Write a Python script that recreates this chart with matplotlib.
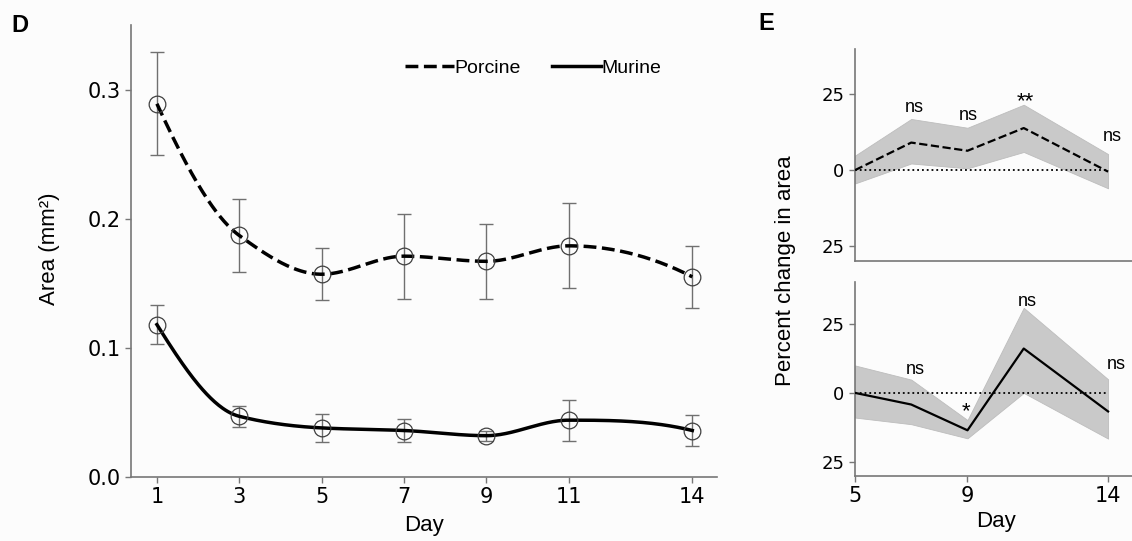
import numpy as np
import matplotlib
matplotlib.use("Agg")
import matplotlib.pyplot as plt
from matplotlib.lines import Line2D

# Panel D data
days = [1, 3, 5, 7, 9, 11, 14]
porcine = [0.289, 0.187, 0.157, 0.171, 0.167, 0.179, 0.155]
porcine_err = [0.040, 0.028, 0.020, 0.033, 0.029, 0.033, 0.024]
murine = [0.118, 0.047, 0.038, 0.036, 0.032, 0.044, 0.036]
murine_err = [0.015, 0.008, 0.011, 0.009, 0.004, 0.016, 0.012]

# Panel E data
days_e = [5, 7, 9, 11, 14]
pct_porcine = [0.0, 9.1, 6.4, 13.9, -0.5]
pct_porcine_hi = [4.8, 16.9, 14.0, 21.6, 5.3]
pct_porcine_lo = [-4.4, 2.2, 0.6, 6.0, -6.0]
pct_murine = [0.0, -4.2, -13.5, 16.0, -6.7]
pct_murine_hi = [9.9, 4.8, -9.8, 30.7, 4.9]
pct_murine_lo = [-8.9, -11.3, -16.4, 0.0, -16.5]
sig_porcine = [(7.1, 19.3, "ns"), (9.03, 16.7, "ns"), (11.04, 20.7, "**"), (14.14, 9.7, "ns")]
sig_murine = [(7.13, 6.7, "ns"), (8.95, -8.8, "*"), (11.12, 31.4, "ns"), (14.3, 8.7, "ns")]

SANS = "Liberation Sans"
SPINE = "#777777"


def pchip_curve(x, y, num=400):
    # shape-preserving cubic through the points, used only to draw the line
    x = np.asarray(x, float)
    y = np.asarray(y, float)
    n = len(x)
    h = np.diff(x)
    delta = np.diff(y) / h
    d = np.zeros(n)
    for i in range(1, n - 1):
        if delta[i - 1] * delta[i] > 0:
            w1 = 2 * h[i] + h[i - 1]
            w2 = h[i] + 2 * h[i - 1]
            d[i] = (w1 + w2) / (w1 / delta[i - 1] + w2 / delta[i])

    def end_slope(h0, h1, m0, m1):
        s = ((2 * h0 + h1) * m0 - h0 * m1) / (h0 + h1)
        if np.sign(s) != np.sign(m0):
            return 0.0
        if np.sign(m0) != np.sign(m1) and abs(s) > 3 * abs(m0):
            return 3 * m0
        return s

    d[0] = end_slope(h[0], h[1], delta[0], delta[1])
    d[-1] = end_slope(h[-1], h[-2], delta[-1], delta[-2])
    xs = np.linspace(x[0], x[-1], num)
    idx = np.clip(np.searchsorted(x, xs) - 1, 0, n - 2)
    hh = h[idx]
    t = (xs - x[idx]) / hh
    h00 = 2 * t**3 - 3 * t**2 + 1
    h10 = t**3 - 2 * t**2 + t
    h01 = -2 * t**3 + 3 * t**2
    h11 = t**3 - t**2
    ys = h00 * y[idx] + h10 * hh * d[idx] + h01 * y[idx + 1] + h11 * hh * d[idx + 1]
    return xs, ys


def style_axes(ax):
    for s in ["top", "right"]:
        ax.spines[s].set_visible(False)
    for s in ["left", "bottom"]:
        ax.spines[s].set_color(SPINE)
        ax.spines[s].set_linewidth(1.2)
    ax.tick_params(colors=SPINE, labelcolor="black", width=1, length=4)
    ax.set_facecolor("none")


fig = plt.figure(figsize=(11.32, 5.41), dpi=100, facecolor="#fcfcfc")

# --- Panel D ---
axd = fig.add_axes([0.1157, 0.1183, 0.5177, 0.8355])
style_axes(axd)
for vals, errs, ls in [(porcine, porcine_err, "--"), (murine, murine_err, "-")]:
    xs, ys = pchip_curve(days, vals)
    axd.plot(xs, ys, color="black", lw=2.5, ls=ls, zorder=3)
    axd.errorbar(days, vals, yerr=errs, fmt="none", ecolor="#707070",
                 elinewidth=1, capsize=5, capthick=1, zorder=2)
    axd.plot(days, vals, "o", ms=12, mfc="none", mec="#404040", mew=0.9, zorder=4)
axd.set_xlim(0.37, 14.6)
axd.set_ylim(0, 0.35)
axd.set_xticks(days)
axd.set_yticks([0.0, 0.1, 0.2, 0.3])
axd.set_yticklabels(["0.0", "0.1", "0.2", "0.3"])
axd.tick_params(labelsize=15)

handles = [Line2D([], [], color="black", lw=2.5, ls="--"),
           Line2D([], [], color="black", lw=2.5, ls="-")]
fig.legend(handles, ["Porcine", "Murine"], loc="center left",
           bbox_to_anchor=(405 / 1132, 1 - 68 / 541), ncol=2, frameon=False,
           borderpad=0, borderaxespad=0, handlelength=2.5, handletextpad=0.05,
           columnspacing=1.6, prop={"family": SANS, "size": 14})

fig.text(50 / 1132, 1 - 249 / 541, "Area (mm²)", rotation=90, ha="center",
         va="center", family=SANS, fontsize=16)
fig.text(424 / 1132, 1 - 525 / 541, "Day", ha="center", va="center",
         family=SANS, fontsize=16)
fig.text(20 / 1132, 1 - 26 / 541, "D", ha="center", va="center",
         family=SANS, fontsize=17, weight="bold")

# --- Panel E ---
axt = fig.add_axes([0.7553, 0.5176, 0.2447, 0.3918])
axb = fig.add_axes([0.7553, 0.1201, 0.2447, 0.3586])
for ax, mid, hi, lo, ls, sig in [
        (axt, pct_porcine, pct_porcine_hi, pct_porcine_lo, "--", sig_porcine),
        (axb, pct_murine, pct_murine_hi, pct_murine_lo, "-", sig_murine)]:
    style_axes(ax)
    ax.fill_between(days_e, lo, hi, color="#c9c9c9", edgecolor="#bdbdbd", lw=0.6, zorder=1)
    ax.plot([days_e[0], days_e[-1]], [0, 0], color="black", ls=":", lw=1.3, zorder=2)
    ax.plot(days_e, mid, color="black", ls=ls, lw=1.6, zorder=3)
    for x, y, t in sig:
        size = 16 if "*" in t else 13
        ax.text(x, y, t, ha="center", va="baseline", family=SANS, fontsize=size)
    ax.set_xlim(5, 14.85)
    ax.set_ylim(-30, 40)
    ax.set_yticks([25, 0, -25])
    ax.set_yticklabels(["25", "0", "25"])
    ax.tick_params(labelsize=13)

axt.tick_params(bottom=False, labelbottom=False)
axb.set_xticks([5, 9, 14])
axb.tick_params(axis="x", labelsize=15)

fig.text(785 / 1132, 1 - 271 / 541, "Percent change in area", rotation=90,
         ha="center", va="center", family=SANS, fontsize=16)
fig.text(996 / 1132, 1 - 521 / 541, "Day", ha="center", va="center",
         family=SANS, fontsize=16)
fig.text(766 / 1132, 1 - 24 / 541, "E", ha="center", va="center",
         family=SANS, fontsize=17, weight="bold")

fig.savefig("out.png", dpi=100, facecolor=fig.get_facecolor())
